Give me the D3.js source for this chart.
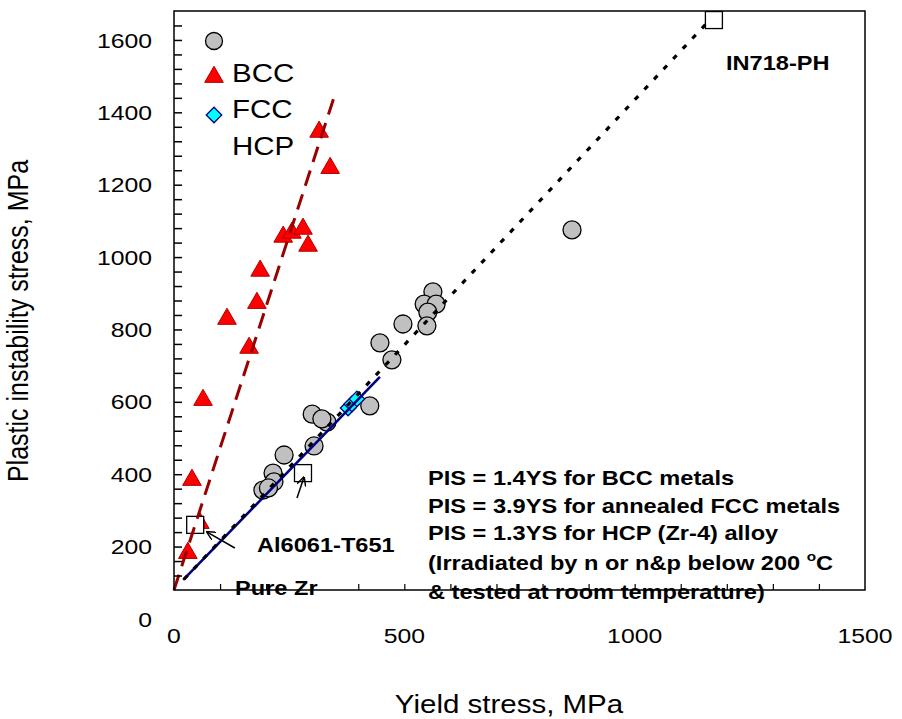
<!DOCTYPE html>
<html>
<head>
<meta charset="utf-8">
<script src="https://cdn.jsdelivr.net/npm/d3@7"></script>
<style>
  body { margin: 0; background: #fff; }
  text { font-family: Arial, "Liberation Sans", sans-serif; fill: #000; }
</style>
</head>
<body>
<div id="chart"></div>
<script>
// ---- data (MPa) ----
const greyYS  = [562, 543, 569, 551, 549, 497, 447, 473, 425, 300, 332, 321, 304, 239, 215, 217, 193, 205, 864];
const greyPIS = [824, 790, 790, 768, 730, 735, 683, 636, 509, 486, 464, 473, 398, 373, 323, 299, 276, 282, 995];

const bccYS  = [315, 339, 237, 256, 280, 291, 187, 180, 115, 163, 63, 39, 56, 30];
const bccPIS = [1266, 1166, 976, 987, 998, 951, 882, 793, 749, 669, 525, 304, 185, 102];

const fccYS  = [378, 386, 397];
const fccPIS = [503, 514, 528];

const hcpYS  = [1172, 280, 46];
const hcpPIS = [1575, 323, 180];

// fit lines, end points
const bccFit = [[0, 0], [347, 1360]];
const hcpFit = [[20, 28], [447, 589]];
const allFit = [[22, 30], [1157, 1567]];

const xTicks = [0, 500, 1000, 1500];
const yTicks = [0, 200, 400, 600, 800, 1000, 1200, 1400, 1600];
const legendLabels = ["", "BCC", "FCC", "HCP"];
const noteLines = [
  "PIS = 1.4YS for BCC metals",
  "PIS = 3.9YS for annealed FCC metals",
  "PIS = 1.3YS for HCP (Zr-4) alloy"
];

// ---- layout ----
let dim = { width: 902, height: 719, left: 174, right: 865, top: 11, bottom: 590 };
const sx = 1.18;          // the original picture is stretched sideways
const labelShift = 29;    // y tick labels sit lower than their ticks in the original

let x = d3.scaleLinear().domain([0, 1500]).range([dim.left, dim.right]);
let y = d3.scaleLinear().domain([0, 1600]).range([dim.bottom, dim.top]);

let svg = d3.select("#chart").append("svg")
    .attr("width", dim.width)
    .attr("height", dim.height);

let defs = svg.append("defs");
defs.append("marker")
    .attr("id", "arrow")
    .attr("viewBox", "0 0 10 10")
    .attr("refX", 9).attr("refY", 5)
    .attr("markerWidth", 9).attr("markerHeight", 9)
    .attr("markerUnits", "userSpaceOnUse")
    .attr("orient", "auto")
  .append("path")
    .attr("d", "M0,0 L10,5 L0,10")
    .attr("fill", "none")
    .attr("stroke", "#000")
    .attr("stroke-width", 1.6);

function stretchText(g, px, py, str, size, weight) {
  return g.append("text")
      .attr("transform", "translate(" + px + "," + py + ") scale(" + sx + ",1)")
      .style("font-size", size + "px")
      .style("font-weight", weight || "normal")
      .text(str);
}

// ---- annotation texts ----
let notes = svg.append("g").attr("class", "notes");
noteLines.forEach(function(t, i) {
  stretchText(notes, 428, 485 + i * 27.5, t, 20, "bold");
});
let irr = stretchText(notes, 428, 570, "(Irradiated by n or n&p below 200 ", 20, "bold");
irr.append("tspan").attr("dy", -9).style("font-size", "13px").text("o");
irr.append("tspan").attr("dy", 9).text("C");
stretchText(notes, 428, 599, "& tested at room temperature)", 20, "bold");

stretchText(notes, 726, 70, "IN718-PH", 20, "bold");
stretchText(notes, 257, 552, "Al6061-T651", 20, "bold");
stretchText(notes, 235, 595, "Pure Zr", 20, "bold");

// ---- markers ----
let marks = svg.append("g").attr("class", "marks");

marks.selectAll("circle.grey")
    .data(d3.range(greyYS.length))
  .enter().append("circle")
    .attr("class", "grey")
    .attr("cx", function(i) { return x(greyYS[i]); })
    .attr("cy", function(i) { return y(greyPIS[i]); })
    .attr("r", 9)
    .attr("fill", "#c0c0c0")
    .attr("stroke", "#000")
    .attr("stroke-width", 1.3);

let tri = d3.symbol().type(d3.symbolTriangle).size(150);
marks.selectAll("path.bcc")
    .data(d3.range(bccYS.length))
  .enter().append("path")
    .attr("class", "bcc")
    .attr("d", tri)
    .attr("transform", function(i) { return "translate(" + x(bccYS[i]) + "," + y(bccPIS[i]) + ")"; })
    .attr("fill", "#ff0000")
    .attr("stroke", "#b00000")
    .attr("stroke-width", 1);

let dia = d3.symbol().type(d3.symbolSquare).size(120);
marks.selectAll("path.fcc")
    .data(d3.range(fccYS.length))
  .enter().append("path")
    .attr("class", "fcc")
    .attr("d", dia)
    .attr("transform", function(i) { return "translate(" + x(fccYS[i]) + "," + y(fccPIS[i]) + ") rotate(45)"; })
    .attr("fill", "#00ffff")
    .attr("stroke", "#000080")
    .attr("stroke-width", 1.3);

marks.selectAll("rect.hcp")
    .data(d3.range(hcpYS.length))
  .enter().append("rect")
    .attr("class", "hcp")
    .attr("x", function(i) { return x(hcpYS[i]) - 8.5; })
    .attr("y", function(i) { return y(hcpPIS[i]) - 8.5; })
    .attr("width", 17).attr("height", 17)
    .attr("fill", "#fff")
    .attr("stroke", "#000")
    .attr("stroke-width", 1.3);

// ---- fit lines ----
let line = d3.line().x(function(d) { return x(d[0]); }).y(function(d) { return y(d[1]); });

svg.append("path").datum(bccFit)
    .attr("d", line)
    .attr("stroke", "#990000").attr("stroke-width", 3)
    .attr("stroke-dasharray", "16,9").attr("fill", "none");

svg.append("path").datum(hcpFit)
    .attr("d", line)
    .attr("stroke", "#000080").attr("stroke-width", 2.6).attr("fill", "none");

svg.append("path").datum(allFit)
    .attr("d", line)
    .attr("stroke", "#000").attr("stroke-width", 3.2)
    .attr("stroke-dasharray", "5,9").attr("fill", "none");

// ---- arrows ----
svg.append("path").datum([[267, 254], [282, 311]])
    .attr("d", line).attr("stroke", "#000").attr("stroke-width", 1.5)
    .attr("fill", "none").attr("marker-end", "url(#arrow)");
svg.append("path").datum([[132, 116], [72, 160]])
    .attr("d", line).attr("stroke", "#000").attr("stroke-width", 1.5)
    .attr("fill", "none").attr("marker-end", "url(#arrow)");

// ---- frame and ticks ----
svg.append("rect")
    .attr("x", x(0)).attr("y", y(1600))
    .attr("width", x(1500) - x(0)).attr("height", y(0) - y(1600))
    .attr("fill", "none").attr("stroke", "#000").attr("stroke-width", 1.5);

svg.append("g")
    .attr("transform", "translate(" + x(0) + ",0)")
    .call(d3.axisRight(y).tickValues(d3.range(40, 1600, 40)).tickSize(8).tickFormat(""))
    .call(function(g) { g.select(".domain").remove(); })
    .selectAll("line").attr("stroke-width", 1.5);

svg.append("g")
    .attr("transform", "translate(0," + y(0) + ")")
    .call(d3.axisTop(x).tickValues(d3.range(100, 1500, 100)).tickSize(6).tickFormat(""))
    .call(function(g) { g.select(".domain").remove(); })
    .selectAll("line").attr("stroke-width", 1.2);

// tick labels
let yLab = svg.append("g").attr("class", "y labels");
yTicks.forEach(function(v) {
  yLab.append("text")
      .attr("transform", "translate(152," + (y(v) + labelShift + 7.5) + ") scale(" + sx + ",1)")
      .attr("text-anchor", "end")
      .style("font-size", "21px")
      .text(v);
});
let xLab = svg.append("g").attr("class", "x labels");
xTicks.forEach(function(v) {
  xLab.append("text")
      .attr("transform", "translate(" + x(v) + ",643) scale(" + sx + ",1)")
      .attr("text-anchor", "middle")
      .style("font-size", "21px")
      .text(v);
});

// axis titles
svg.append("text")
    .attr("transform", "translate(509,713) scale(" + sx + ",1)")
    .attr("text-anchor", "middle")
    .style("font-size", "25px")
    .text("Yield stress, MPa");

svg.append("text")
    .attr("transform", "translate(28,321) scale(" + sx + ",1) rotate(-90)")
    .attr("text-anchor", "middle")
    .style("font-size", "25px")
    .text("Plastic instability stress, MPa");

// ---- legend ----
let legend = svg.append("g").attr("class", "legend");
legend.append("circle").attr("cx", 214).attr("cy", 41).attr("r", 8.5)
    .attr("fill", "#c0c0c0").attr("stroke", "#000").attr("stroke-width", 1.3);
legend.append("path").attr("d", tri).attr("transform", "translate(214,77)")
    .attr("fill", "#ff0000").attr("stroke", "#b00000");
legend.append("path").attr("d", dia).attr("transform", "translate(214,115) rotate(45)")
    .attr("fill", "#00ffff").attr("stroke", "#000080").attr("stroke-width", 1.3);
legendLabels.forEach(function(t, i) {
  if (t) stretchText(legend, 232, 45 + i * 36.5, t, 25);
});
</script>
</body>
</html>
